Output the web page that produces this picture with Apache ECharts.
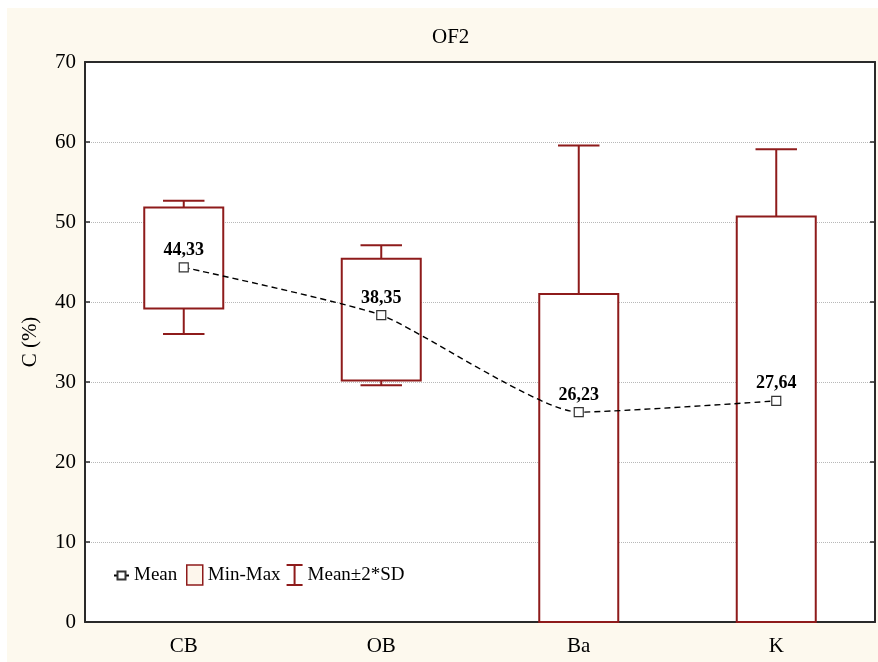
<!DOCTYPE html>
<html>
<head>
<meta charset="utf-8">
<script src="https://cdn.jsdelivr.net/npm/echarts@6/dist/echarts.min.js"></script>
<style>
html,body{margin:0;padding:0;background:#ffffff;}
#chart{position:absolute;left:7px;top:8px;width:871px;height:654px;background:#FDF9EE;}
</style>
</head>
<body>
<div id="chart"></div>
<script>
// ---- data ----
const categories = ['CB', 'OB', 'Ba', 'K'];
const means = [44.33, 38.35, 26.23, 27.64];
const minVals = [39.2, 30.2, 0, 0];
const maxVals = [51.8, 45.4, 41.0, 50.7];
const sdLow = [36.0, 29.6, -7.1, -3.8];
const sdHigh = [52.65, 47.1, 59.55, 59.1];
const yMin = 0, yMax = 70, yStep = 10;

const RED = '#8E1B1B';
const AXIS = '#2a2a2a';
const FONT = '"Liberation Serif", "Times New Roman", serif';

const boxData = categories.map((c, i) => [i, minVals[i], maxVals[i]]);
const whiskerData = categories.map((c, i) => [i, sdLow[i], sdHigh[i]]);

function clampY(y, cs) {
  return Math.min(Math.max(y, cs.y), cs.y + cs.height);
}

const chart = echarts.init(document.getElementById('chart'), null, {renderer: 'canvas'});
chart.setOption({
  backgroundColor: 'transparent',
  animation: false,
  title: {
    text: 'OF2', left: 420, top: 14,
    textStyle: {fontFamily: FONT, fontSize: 21, fontWeight: 'normal', color: '#000'}
  },
  grid: {left: 78, right: 3, top: 54, bottom: 40, show: true, backgroundColor: '#ffffff', borderWidth: 0},
  legend: [
    {
      data: ['Mean'], left: 101, top: 553, itemWidth: 15, itemHeight: 10,
      textStyle: {fontFamily: FONT, fontSize: 19, color: '#000'}
    },
    {
      data: [
        {name: 'Min-Max', icon: 'rect', itemStyle: {color: '#FDF6EC', borderColor: RED, borderWidth: 1.5}},
        {name: 'Mean±2*SD', icon: 'path://M0,0L16,0M8,0L8,20M0,20L16,20', itemStyle: {color: 'transparent', borderColor: RED, borderWidth: 2}}
      ],
      left: 174, top: 551, itemWidth: 16, itemHeight: 20, itemGap: 5,
      textStyle: {fontFamily: FONT, fontSize: 19, color: '#000'}
    }
  ],
  xAxis: [
    {
      type: 'category', data: categories, position: 'bottom',
      axisLine: {onZero: false, lineStyle: {color: AXIS, width: 2}},
      axisTick: {inside: true, alignWithLabel: true, length: 5, lineStyle: {color: AXIS, width: 1.5}},
      axisLabel: {fontFamily: FONT, fontSize: 21, color: '#000', margin: 14},
      splitLine: {show: false}
    },
    {
      type: 'category', data: categories, position: 'top',
      axisLine: {onZero: false, lineStyle: {color: AXIS, width: 2}},
      axisTick: {inside: true, alignWithLabel: true, length: 5, lineStyle: {color: AXIS, width: 1.5}},
      axisLabel: {show: false},
      splitLine: {show: false}
    }
  ],
  yAxis: [
    {
      type: 'value', min: yMin, max: yMax, interval: yStep, position: 'left',
      name: 'C (%)', nameLocation: 'middle', nameRotate: 90, nameGap: 44,
      nameTextStyle: {fontFamily: FONT, fontSize: 21, color: '#000'},
      axisLine: {show: true, onZero: false, lineStyle: {color: AXIS, width: 2}},
      axisTick: {show: true, inside: true, length: 5, lineStyle: {color: AXIS, width: 1.5}},
      axisLabel: {fontFamily: FONT, fontSize: 21, color: '#000', margin: 9},
      splitLine: {show: true, lineStyle: {color: '#b8b8b8', type: 'dotted', width: 1}}
    },
    {
      type: 'value', min: yMin, max: yMax, interval: yStep, position: 'right',
      axisLine: {show: true, onZero: false, lineStyle: {color: AXIS, width: 2}},
      axisTick: {show: true, inside: true, length: 5, lineStyle: {color: AXIS, width: 1.5}},
      axisLabel: {show: false},
      splitLine: {show: false}
    }
  ],
  series: [
    {
      name: 'Mean±2*SD', type: 'custom', xAxisIndex: 0, yAxisIndex: 0,
      itemStyle: {color: RED},
      data: whiskerData,
      renderItem: function (params, api) {
        const cs = params.coordSys;
        const x = api.value(0);
        const lo = api.coord([x, api.value(1)]);
        const hi = api.coord([x, api.value(2)]);
        const cap = api.size([1, 0])[0] * 0.21;
        const style = {stroke: RED, lineWidth: 2, fill: null};
        const children = [{
          type: 'line',
          shape: {x1: lo[0], y1: clampY(lo[1], cs), x2: hi[0], y2: clampY(hi[1], cs)},
          style: style
        }];
        [lo, hi].forEach(p => {
          if (p[1] >= cs.y - 0.5 && p[1] <= cs.y + cs.height + 0.5) {
            children.push({type: 'line', shape: {x1: p[0] - cap / 2, y1: p[1], x2: p[0] + cap / 2, y2: p[1]}, style: style});
          }
        });
        return {type: 'group', children: children};
      },
      z: 2
    },
    {
      name: 'Min-Max', type: 'custom', xAxisIndex: 0, yAxisIndex: 0,
      itemStyle: {color: RED},
      data: boxData,
      renderItem: function (params, api) {
        const x = api.value(0);
        const lo = api.coord([x, api.value(1)]);
        const hi = api.coord([x, api.value(2)]);
        const w = api.size([1, 0])[0] * 0.4;
        return {
          type: 'rect',
          shape: {x: lo[0] - w / 2, y: hi[1], width: w, height: lo[1] - hi[1]},
          style: {fill: '#ffffff', stroke: RED, lineWidth: 2}
        };
      },
      z: 3
    },
    {
      name: 'Mean', type: 'line', xAxisIndex: 0, yAxisIndex: 0,
      data: means,
      smooth: 0.18,
      symbol: 'rect', symbolSize: 9,
      itemStyle: {color: '#ffffff', borderColor: '#333', borderWidth: 1.2},
      lineStyle: {color: '#000', width: 1.4, type: [6, 4]},
      label: {
        show: true, position: 'top', distance: 3,
        fontFamily: FONT, fontSize: 18, fontWeight: 'bold', color: '#000',
        formatter: p => p.value.toFixed(2).replace('.', ',')
      },
      z: 5
    }
  ]
});
</script>
</body>
</html>
